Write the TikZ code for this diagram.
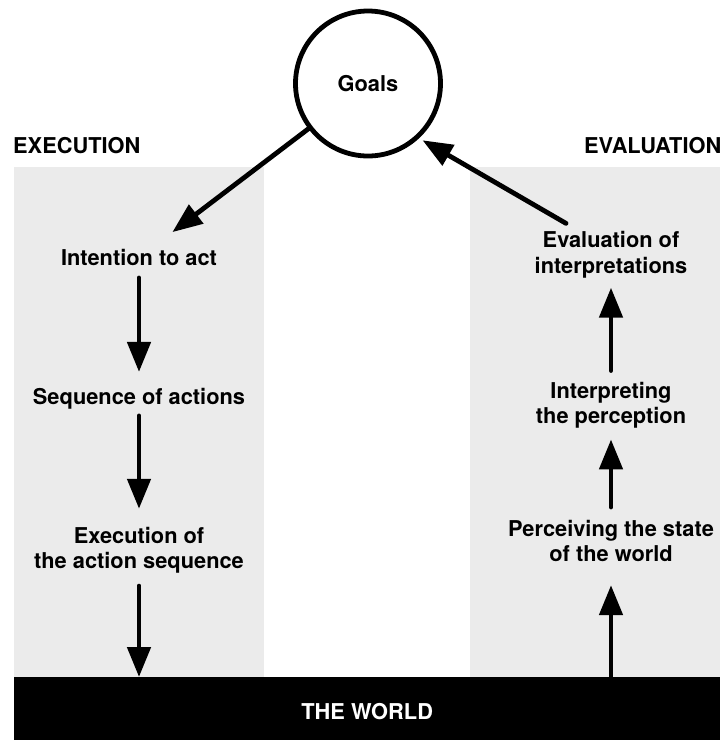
\documentclass[tikz,border=0pt]{standalone}
\usepackage{fontspec}
\setmainfont{TeX Gyre Heros}
\usetikzlibrary{arrows.meta}
\definecolor{panel}{RGB}{235,235,235}
\begin{document}
\begin{tikzpicture}[x=1pt,y=-1pt,
  txt/.style={font=\fontsize{21.8}{25.5}\selectfont\bfseries, inner sep=0pt, align=center},
  flow/.style={line width=4.8pt, line cap=round, -{Triangle[length=30pt,width=23pt]}},
  goalnode/.style={txt, circle, draw, line width=4.8pt, minimum size=145pt, inner sep=0pt}]
\useasboundingbox (0,0) rectangle (720,740);

% shaded columns for the two stages
\fill[panel] (14,167) rectangle (264,677);
\fill[panel] (470,167) rectangle (720,677);

% the world
\node[txt, fill=black, text=white, anchor=north west, minimum width=706pt,
      minimum height=63pt, text height=21pt, text depth=0pt] (world) at (14,677) {THE WORLD};

% headings
\node[txt, anchor=base west] (exech) at (13,153) {EXECUTION};
\node[txt, anchor=base east] (evalh) at (721.5,153) {EVALUATION};

% goal
\node[goalnode] (goals) at (368,83.5) {Goals};

% execution side
\node[txt] (int) at (139,257.5) {Intention to act};
\node[txt] (seq) at (139,398.6) {Sequence of actions};
\node[txt] (exe) at (139,550) {Execution of\\the action sequence};

% evaluation side
\node[txt] (eval) at (611,254.6) {Evaluation of\\interpretations};
\node[txt] (interp) at (611,405) {Interpreting\\the perception};
\node[txt] (perc) at (611,541) {Perceiving the state\\of the world};

% execution flow
\draw[flow, shorten >=28pt] (goals) -- (int);
\draw[flow, shorten <=12pt, shorten >=16pt] (int) -- (seq);
\draw[flow, shorten <=6.6pt, shorten >=17.8pt] (seq) -- (exe);
\draw[flow, shorten <=12.6pt] (exe) -- (exe |- world.north);

% evaluation flow
\draw[flow, shorten >=23pt] (world.north -| perc) -- (perc);
\draw[flow, shorten <=12.8pt, shorten >=11pt] (perc) -- (interp);
\draw[flow, shorten <=11pt, shorten >=9.6pt] (interp) -- (eval);
\draw[flow, shorten >=4pt] ([xshift=-45pt,yshift=7.8pt]eval.north) -- (goals.-47.5);
\end{tikzpicture}
\end{document}
